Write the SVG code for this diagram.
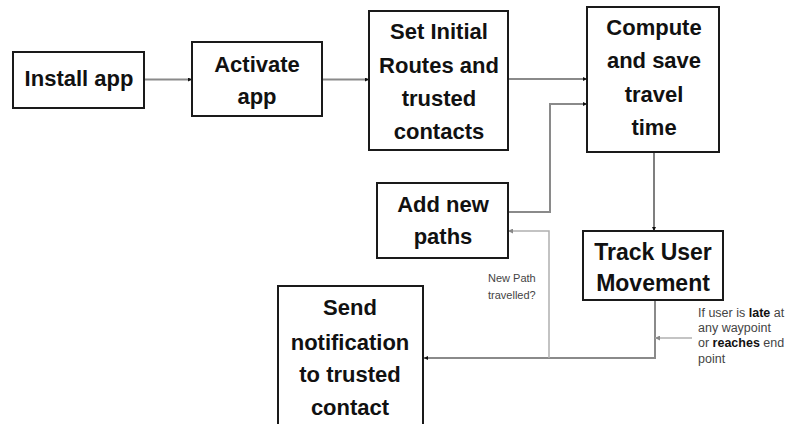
<svg xmlns="http://www.w3.org/2000/svg" width="791" height="424" viewBox="0 0 791 424">
<style>
.box{fill:#fff;stroke:#1a1a1a;stroke-width:2}
.t{font-family:"Liberation Sans",Arial,sans-serif;font-weight:bold;font-size:22px;fill:#111;text-anchor:middle}
.s{font-family:"Liberation Sans",Arial,sans-serif;font-size:11px;fill:#444}
.r{font-size:12.5px}
.c{fill:none;stroke:#8a8a8a;stroke-width:2}
.cl{fill:none;stroke:#b0b0b0;stroke-width:1.5}
</style>
<defs>
<marker id="ah" viewBox="0 0 10 10" refX="10" refY="5" markerWidth="4" markerHeight="4" orient="auto" markerUnits="userSpaceOnUse">
<path d="M0,0 L10,5 L0,10 z" fill="#111"/>
</marker>
<marker id="ahl" viewBox="0 0 10 10" refX="10" refY="5" markerWidth="5" markerHeight="5" orient="auto" markerUnits="userSpaceOnUse">
<path d="M0,0 L10,5 L0,10 z" fill="#888"/>
</marker>
</defs>
<g id="connectors">
<path class="c" d="M144,79.5 H192" marker-end="url(#ah)"/>
<path class="c" d="M322,79.5 H369" marker-end="url(#ah)"/>
<path class="c" d="M508,79 H587" marker-end="url(#ah)"/>
<path class="c" d="M508,212 H550 V104 H587" marker-end="url(#ah)"/>
<path d="M654,152 V231" fill="none" stroke="#555" stroke-width="1.5" marker-end="url(#ah)"/>
<path class="c" d="M655,300 V358 H424" marker-end="url(#ah)"/>
<path class="cl" d="M549,358 V231 H508" marker-end="url(#ahl)"/>
<path class="cl" d="M692,338 H655" marker-end="url(#ahl)"/>
</g>
<g id="install">
<rect class="box" x="13" y="52" width="131" height="56"/>
<text class="t" x="79" y="86">Install app</text>
</g>
<g id="activate">
<rect class="box" x="192" y="42" width="130" height="74"/>
<text class="t" x="257" y="72">Activate</text>
<text class="t" x="257" y="104">app</text>
</g>
<g id="setinitial">
<rect class="box" x="369" y="11" width="139" height="139"/>
<text class="t" x="439" y="39">Set Initial</text>
<text class="t" x="439" y="73">Routes and</text>
<text class="t" x="439" y="106">trusted</text>
<text class="t" x="439" y="139">contacts</text>
</g>
<g id="compute">
<rect class="box" x="587" y="7" width="132" height="145"/>
<text class="t" x="654" y="35">Compute</text>
<text class="t" x="654" y="68">and save</text>
<text class="t" x="654" y="102">travel</text>
<text class="t" x="654" y="135">time</text>
</g>
<g id="addpaths">
<rect class="box" x="377" y="183" width="131" height="75"/>
<text class="t" x="443" y="212">Add new</text>
<text class="t" x="443" y="244">paths</text>
</g>
<g id="track">
<rect class="box" x="583" y="231" width="140" height="69" stroke="#555"/>
<text class="t" x="653" y="260" style="font-size:23px">Track User</text>
<text class="t" x="653" y="291" style="font-size:23px">Movement</text>
</g>
<g id="send">
<rect class="box" x="278" y="286" width="145" height="150"/>
<text class="t" x="350" y="315">Send</text>
<text class="t" x="350" y="350">notification</text>
<text class="t" x="350" y="382">to trusted</text>
<text class="t" x="350" y="415">contact</text>
</g>
<g id="labels">
<text class="s" x="488" y="282">New Path</text>
<text class="s" x="488" y="299">travelled?</text>
<text class="s r" x="698" y="317">If user is <tspan font-weight="bold" fill="#111">late</tspan> at</text>
<text class="s r" x="698" y="332">any waypoint</text>
<text class="s r" x="698" y="347">or <tspan font-weight="bold" fill="#111">reaches</tspan> end</text>
<text class="s r" x="698" y="363">point</text>
</g>
</svg>
